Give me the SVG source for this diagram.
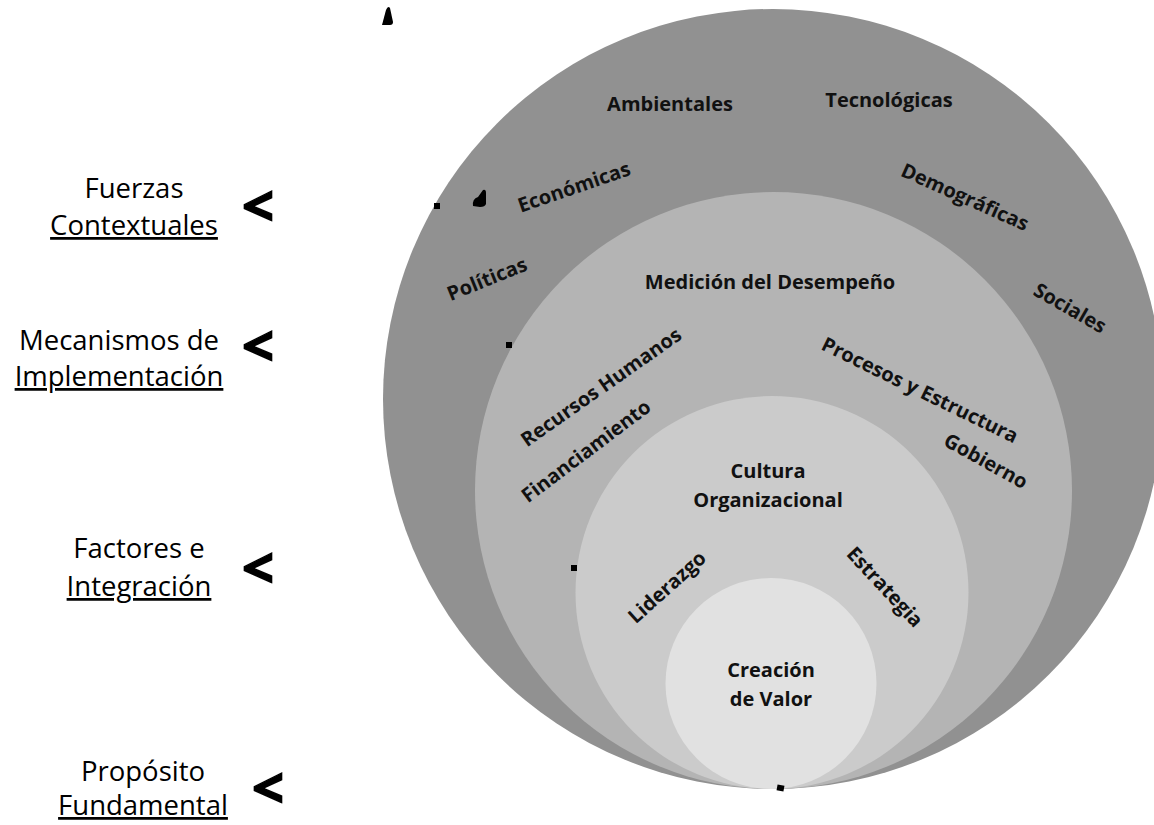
<svg xmlns="http://www.w3.org/2000/svg" width="1154" height="825" viewBox="0 0 1154 825">
<style>
.lbl{font-family:"Open Sans","Liberation Sans",sans-serif;font-size:27.5px;fill:#000;text-anchor:middle}
.u{text-decoration:underline}
.chev{font-family:"Open Sans","Liberation Sans",sans-serif;font-weight:700;font-size:56px;fill:#000;stroke:#000;stroke-width:1.5;text-anchor:middle}
.c{font-family:"Open Sans","Liberation Sans",sans-serif;font-weight:700;font-size:20px;fill:#111;text-anchor:middle}
.mark{fill:#000}
</style>
<rect width="1154" height="825" fill="#fff"/>
<g id="ring-contextuales">
<circle cx="773" cy="399" r="390" fill="#919191"/>
<text class="c" x="670" y="111">Ambientales</text>
<text class="c" x="889" y="107">Tecnológicas</text>
<text class="c" transform="translate(574 187) rotate(-19)" x="0" y="7">Económicas</text>
<text class="c" transform="translate(487 279) rotate(-22)" x="0" y="7">Políticas</text>
<text class="c" transform="translate(965 197) rotate(24)" x="0" y="7">Demográficas</text>
<text class="c" transform="translate(1070 308) rotate(30)" x="0" y="7">Sociales</text>
</g>
<g id="ring-implementacion">
<circle cx="773.5" cy="490.5" r="298.5" fill="#b4b4b4"/>
<text class="c" x="770" y="289">Medición del Desempeño</text>
<text class="c" transform="translate(601 387) rotate(-35)" x="0" y="7">Recursos Humanos</text>
<text class="c" transform="translate(586 451) rotate(-37)" x="0" y="7">Financiamiento</text>
<text class="c" transform="translate(920 390) rotate(26)" x="0" y="7">Procesos y Estructura</text>
<text class="c" transform="translate(986 461) rotate(29)" x="0" y="7">Gobierno</text>
</g>
<g id="ring-integracion">
<circle cx="772" cy="592.5" r="196.5" fill="#cbcbcb"/>
<text class="c" x="768" y="478">Cultura</text>
<text class="c" x="768" y="507">Organizacional</text>
<text class="c" transform="translate(667 587) rotate(-42)" x="0" y="7">Liderazgo</text>
<text class="c" transform="translate(885 587) rotate(47)" x="0" y="7">Estrategia</text>
</g>
<g id="core-valor">
<circle cx="771" cy="683.5" r="105.5" fill="#e1e1e1"/>
<text class="c" x="771" y="677">Creación</text>
<text class="c" x="771" y="706">de Valor</text>
</g>
<g id="label-fuerzas">
<text class="lbl" x="134" y="198">Fuerzas</text>
<text class="lbl u" x="134" y="235">Contextuales</text>
<text class="chev" x="258" y="226">&lt;</text>
</g>
<g id="label-mecanismos">
<text class="lbl" x="119" y="350">Mecanismos de</text>
<text class="lbl u" x="119" y="386">Implementación</text>
<text class="chev" x="258" y="366">&lt;</text>
</g>
<g id="label-factores">
<text class="lbl" x="139" y="558">Factores e</text>
<text class="lbl u" x="139" y="596">Integración</text>
<text class="chev" x="258" y="588">&lt;</text>
</g>
<g id="label-proposito">
<text class="lbl" x="143" y="781">Propósito</text>
<text class="lbl u" x="143" y="815">Fundamental</text>
<text class="chev" x="268" y="808">&lt;</text>
</g>
<g id="connectors">
<path class="mark" d="M382,25 L386,10 Q388,5 390,8 L393,22 Q393,25 390,25 Z"/>
<path class="mark" d="M473,206 Q472,199 478,197 L483,190 Q486,189 486,193 L486,204 Q485,207 480,207 Z"/>
<rect class="mark" x="434" y="203" width="6" height="6"/>
<rect class="mark" x="506" y="342" width="6" height="6"/>
<rect class="mark" x="571" y="565" width="6" height="6"/>
<rect class="mark" x="777" y="785" width="7" height="6" transform="rotate(10 780.5 788)"/>
</g>
</svg>
